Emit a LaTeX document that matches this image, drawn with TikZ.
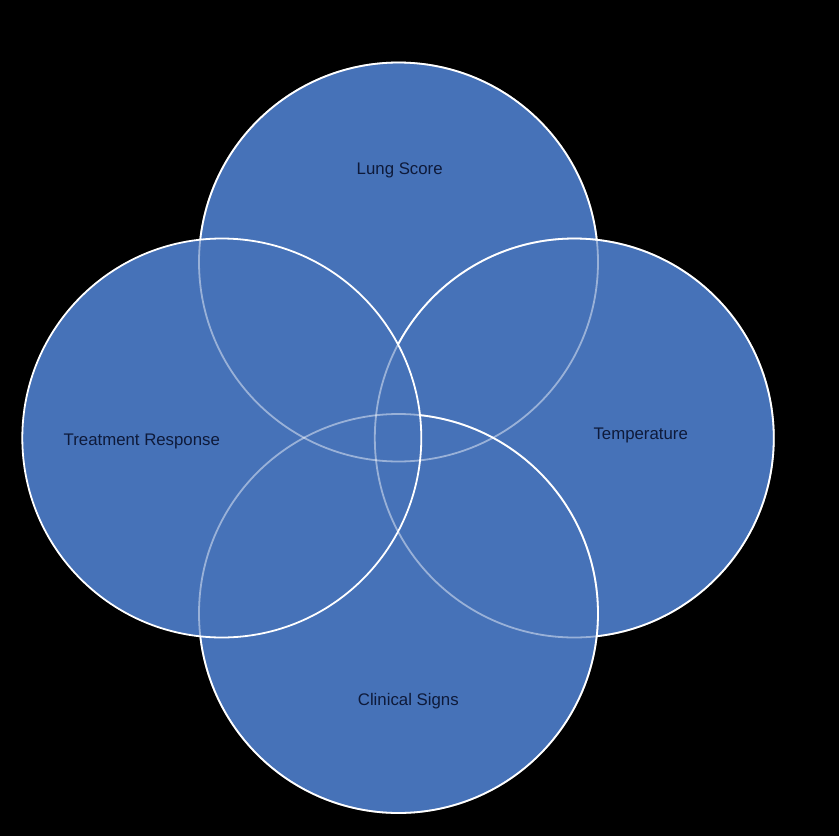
\documentclass[tikz,border=0pt]{standalone}
\usepackage{fontspec}
\setmainfont{Liberation Sans}
\definecolor{vblue}{RGB}{70,114,184}
\definecolor{vtext}{RGB}{14,26,58}
\begin{document}
\begin{tikzpicture}[x=1pt,y=-1pt,
  vcirc/.style={circle,fill=vblue,draw=white,line width=1.8pt,minimum size=399pt,inner sep=0pt},
  vghost/.style={circle,draw=white,draw opacity=0.45,line width=1.8pt,minimum size=399pt,inner sep=0pt},
  vlabel/.style={text=vtext,font=\fontsize{16.8}{19}\selectfont,inner sep=0pt}]
\fill[black] (0,0) rectangle (839,836);
\useasboundingbox (0,0) rectangle (839,836);
% circles in stacking order: top, right, bottom, left
\node[vcirc] (lung) at (398.5,262) {};
\node[vcirc] (temp) at (574.3,438) {};
\node[vcirc] (clin) at (398.5,613.5) {};
\node[vcirc] (treat) at (221.8,438) {};
% faded outlines showing through the later circles
\node[vghost] (lungg) at (lung.center) {};
\node[vghost] (tempg) at (temp.center) {};
\node[vghost] (cling) at (clin.center) {};
% labels
\node[vlabel] (lungl) at (399.7,170.5) {Lung Score};
\node[vlabel] (templ) at (640.7,435) {Temperature};
\node[vlabel] (clinl) at (408.3,701.5) {Clinical Signs};
\node[vlabel] (treatl) at (141.8,441.5) {Treatment Response};
\end{tikzpicture}
\end{document}
